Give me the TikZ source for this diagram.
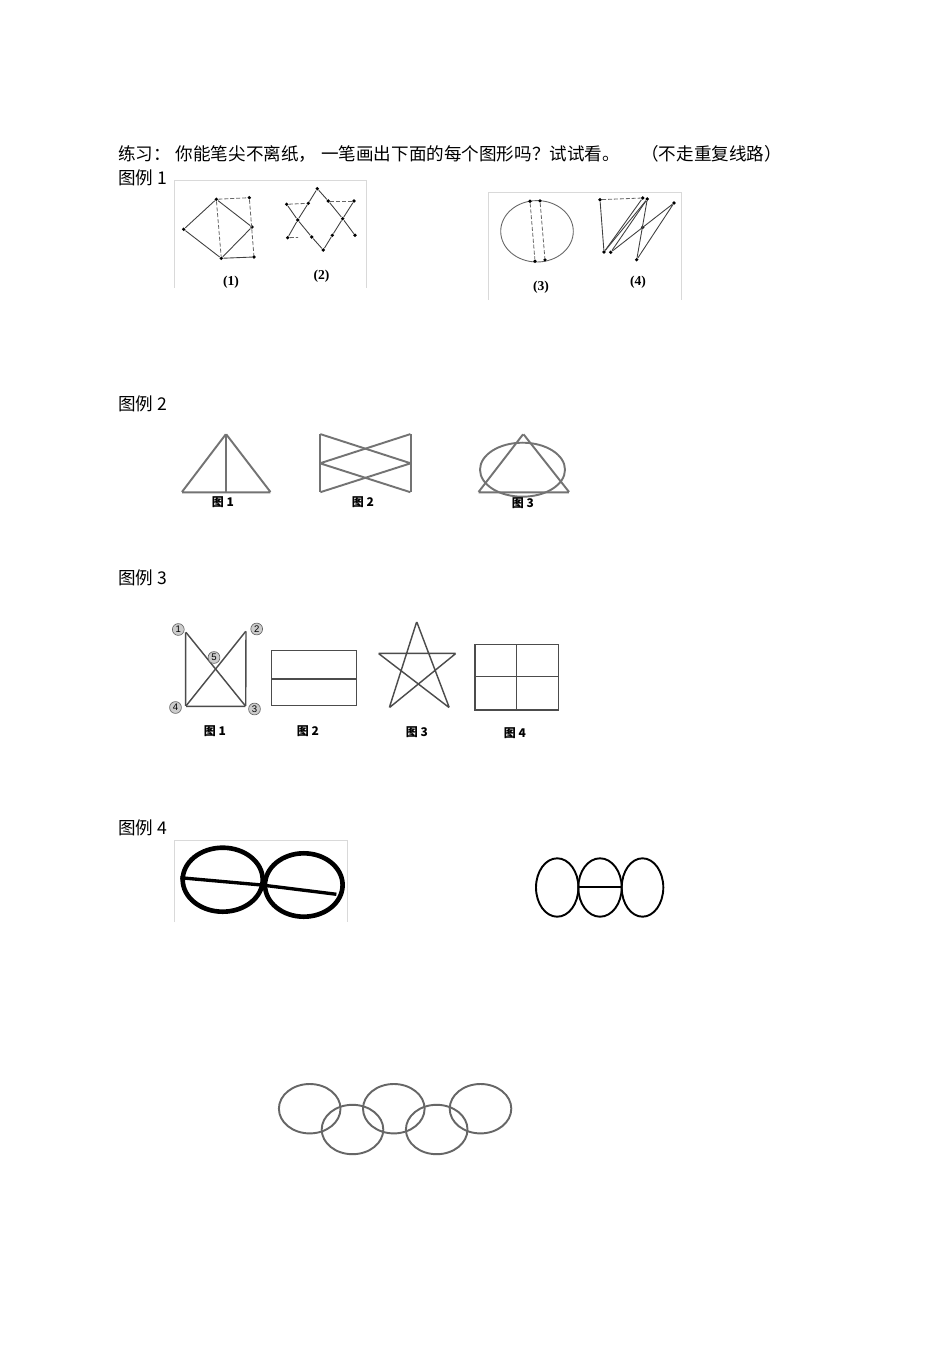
\documentclass[tikz,border=0pt]{standalone}
\usepackage{fontspec}
\setmainfont{Liberation Sans}
\newfontfamily\cjk{Noto Sans CJK SC}
\newfontfamily\scanserif{Liberation Serif}
\usetikzlibrary{arrows, arrows.meta}
\usetikzlibrary{calc}

\tikzset{
  vdot/.style={circle, fill, inner sep=0pt, minimum size=0.8mm},
  vtx/.style={inner sep=0pt, minimum size=0pt},
  scanline/.style={draw=black!75, line width=0.55pt},
  scandash/.style={draw=black!60, line width=0.5pt, dash pattern=on 2.5pt off 1.2pt},
  frameline/.style={draw=black!15, line width=0.6pt},
  grayline/.style={draw=black!55, line width=1.2pt},
  darkline/.style={draw=black!70, line width=0.9pt},
  numtag/.style={circle, draw=black!60, fill=black!20, inner sep=0.3pt, minimum size=2.6mm, font=\fontsize{6}{6}\selectfont},
  headtext/.style={anchor=base west, inner sep=0pt, font=\cjk\fontsize{11}{13}\selectfont},
  figlabel/.style={inner sep=0pt, font=\cjk\bfseries\fontsize{7.5}{8}\selectfont},
  numlabel/.style={inner sep=0pt, font=\scanserif\bfseries\fontsize{8.5}{9}\selectfont}
}

\begin{document}
\begin{tikzpicture}[x=0.626pt, y=-0.626pt]
  \useasboundingbox[fill=white] (0,0) rectangle (950,1345);

  \node[headtext] (title) at (118,161) {练习：\hspace{3pt}你能笔尖不离纸，\hspace{3pt}一笔画出下面的每个图形吗？试试看。};
  \node[headtext] (rule) at (641,161) {（不走重复线路）};
  \node[headtext] (head1) at (118,185) {图例 1};
  \node[headtext] (head2) at (118,410) {图例 2};
  \node[headtext] (head3) at (118,584) {图例 3};
  \node[headtext] (head4) at (118,834) {图例 4};

  % 图例 1
  \draw[frameline] (174,288) -- (174,180) -- (366,180) -- (366,288);
  \draw[frameline] (488,300) -- (488,192) -- (681,192) -- (681,300);

  \node[vdot] (a1) at (183.7,229.3) {};
  \node[vdot] (t1) at (216.3,199.3) {};
  \node[vdot] (q1) at (249.3,197.7) {};
  \node[vdot] (r1) at (252,227) {};
  \node[vdot] (b1) at (221.3,258.3) {};
  \node[vdot] (s1) at (254,257) {};
  \draw[scanline] (a1) -- (t1) -- (r1) -- (b1) -- (a1);
  \draw[scanline] (b1) -- (s1);
  \draw[scandash] (t1) -- (b1);
  \draw[scandash] (t1) -- (q1) -- (s1);
  \node[numlabel] (lab1) at (231,282) {(1)};

  \node[vdot] (st) at (317.3,188.7) {};
  \node[vdot] (sul) at (286.7,204.3) {};
  \node[vdot] (sd1) at (308.3,203.3) {};
  \node[vdot] (sd2) at (328.3,201) {};
  \node[vdot] (sur) at (354,201) {};
  \node[vdot] (slc) at (297.7,220) {};
  \node[vdot] (src) at (342.7,218.7) {};
  \node[vdot] (sll) at (287.7,237.7) {};
  \node[vdot] (sd3) at (311.7,237) {};
  \node[vdot] (sd4) at (332.3,235.3) {};
  \node[vdot] (slr) at (355,235.3) {};
  \node[vdot] (sb) at (323.3,250) {};
  \coordinate (sllh) at (298,237.4);
  \draw[scanline] (st) -- (sd1) -- (slc) -- (sll);
  \draw[scanline] (sul) -- (slc) -- (sd3) -- (sb);
  \draw[scanline] (st) -- (sd2) -- (src) -- (slr);
  \draw[scanline] (sur) -- (src) -- (sd4) -- (sb);
  \draw[scandash] (sul) -- (sd1);
  \draw[scandash] (sd2) -- (sur);
  \draw[scandash] (sll) -- (sllh);
  \node[numlabel] (lab2) at (321.5,276) {(2)};

  \draw[scanline, draw=black!60] (537,231.3) ellipse [x radius=36.3, y radius=30.7];
  \node[vdot] (e1t) at (530,201.3) {};
  \node[vdot] (e1b) at (535,261.3) {};
  \node[vdot] (e2t) at (540,200.9) {};
  \node[vdot] (e2b) at (545,259.9) {};
  \draw[scandash] (e1t) -- (e1b);
  \draw[scandash] (e2t) -- (e2b);
  \node[numlabel] (lab3) at (541,287) {(3)};

  \node[vdot] (za) at (600,199.7) {};
  \node[vdot] (zb) at (642.7,198) {};
  \node[vdot] (zc) at (647.3,199) {};
  \node[vdot] (zd) at (674,203) {};
  \node[vdot] (ze) at (642.7,227.3) {};
  \node[vdot] (zf) at (604,252) {};
  \node[vdot] (zg) at (610.7,252.3) {};
  \node[vdot] (zh) at (636.7,259.7) {};
  \draw[scandash] (za) -- (zb);
  \draw[scanline] (za) -- (zf) -- (zb);
  \draw[scanline] (zf) -- (zc);
  \draw[scanline] (zg) -- (zc) -- (zh);
  \draw[scanline] (zg) -- (zd) -- (zh);
  \node[numlabel] (lab4) at (638,282) {(4)};

  % 图例 2
  \node[vtx] (p1) at (226,434) {};
  \node[vtx] (p1l) at (181.7,492.3) {};
  \node[vtx] (p1r) at (270.7,492.3) {};
  \node[vtx] (p1f) at (226,492.3) {};
  \draw[grayline] (p1l) -- (p1) -- (p1r) -- (p1l);
  \draw[grayline] (p1) -- (p1f);
  \node[figlabel] (fig21) at (223,502) {图 1};

  \node[vtx] (btl) at (320,434) {};
  \node[vtx] (bml) at (320,463.3) {};
  \node[vtx] (bbl) at (320,492.3) {};
  \node[vtx] (btr) at (410.7,434) {};
  \node[vtx] (bmr) at (410.7,463.3) {};
  \node[vtx] (bbr) at (410.7,492.3) {};
  \draw[grayline] (btl) -- (bbl);
  \draw[grayline] (btr) -- (bbr);
  \draw[grayline] (btl) -- (bmr) -- (bbl);
  \draw[grayline] (btr) -- (bml) -- (bbr);
  \node[figlabel] (fig22) at (363,502) {图 2};

  \node[vtx] (p3) at (523.3,434) {};
  \node[vtx] (p3l) at (478.3,492.3) {};
  \node[vtx] (p3r) at (569.3,492.3) {};
  \draw[grayline] (p3l) -- (p3) -- (p3r) -- (p3l);
  \draw[grayline] (522.5,469.7) ellipse [x radius=42.5, y radius=27];
  \node[figlabel] (fig23) at (523,503) {图 3};

  % 图例 3
  \node[vtx] (c1) at (185.7,632) {};
  \node[vtx] (c2) at (246,631) {};
  \node[vtx] (c3) at (245.7,706.3) {};
  \node[vtx] (c4) at (185.7,706.3) {};
  \draw[darkline] (c1) -- (c4) -- (c3) -- (c2);
  \draw[darkline] (c1) -- (c3);
  \draw[darkline] (c2) -- (c4);
  \node[numtag] (n1) at (178.3,629.5) {1};
  \node[numtag] (n2) at (256.7,629) {2};
  \node[numtag] (n5) at (214,657.5) {5};
  \node[numtag] (n4) at (175.5,707.5) {4};
  \node[numtag] (n3) at (254.5,709) {3};
  \node[figlabel] (fig31) at (215,731) {图 1};

  \draw[darkline] (271.7,650.7) rectangle (356.7,705.7);
  \node[vtx] (hl) at (271.7,679) {};
  \node[vtx] (hr) at (356.7,679) {};
  \draw[darkline] (hl) -- (hr);
  \node[figlabel] (fig32) at (308,731) {图 2};

  \node[vtx] (kt) at (416.7,621.7) {};
  \node[vtx] (kl) at (378.3,653.3) {};
  \node[vtx] (kr) at (456,653.3) {};
  \node[vtx] (kbl) at (389.3,707.7) {};
  \node[vtx] (kbr) at (449.3,707.7) {};
  \draw[darkline] (kt) -- (kbl) -- (kr) -- (kl) -- (kbr) -- (kt);
  \node[figlabel] (fig33) at (417,732) {图 3};

  \draw[darkline] (475,644.3) rectangle (558.3,710);
  \node[vtx] (gt) at (516.7,644.3) {};
  \node[vtx] (gb) at (516.7,710) {};
  \node[vtx] (gl) at (475,676.7) {};
  \node[vtx] (gr) at (558.3,676.7) {};
  \draw[darkline] (gt) -- (gb);
  \draw[darkline] (gl) -- (gr);
  \node[figlabel] (fig34) at (515,733) {图 4};

  % 图例 4
  \draw[frameline] (174,922) -- (174,840) -- (347,840) -- (347,922);
  \draw[line width=2.9pt] (222.7,879.7) ellipse [x radius=40, y radius=32];
  \draw[line width=2.9pt] (303.8,885) ellipse [x radius=38.8, y radius=31.7];
  \node[vtx] (w1) at (180,877.7) {};
  \node[vtx] (w2) at (261.7,885) {};
  \node[vtx] (w3) at (336.7,894.3) {};
  \draw[line width=2.1pt] (w1) -- (w2) -- (w3);

  \draw[line width=1.2pt] (557.2,887.5) ellipse [x radius=21.2, y radius=29.2];
  \draw[line width=1.2pt] (600,887.5) ellipse [x radius=21.7, y radius=29.2];
  \draw[line width=1.2pt] (642.5,887.5) ellipse [x radius=20.8, y radius=29.2];
  \node[vtx] (m1) at (578.3,887.3) {};
  \node[vtx] (m2) at (621.7,887.3) {};
  \draw[line width=1.2pt] (m1) -- (m2);

  \draw[grayline, draw=black!60] (309.7,1108.7) ellipse [x radius=30.8, y radius=24.7];
  \draw[grayline, draw=black!60] (352.5,1129.5) ellipse [x radius=30.8, y radius=24.7];
  \draw[grayline, draw=black!60] (393.8,1108.7) ellipse [x radius=30.8, y radius=24.7];
  \draw[grayline, draw=black!60] (436.7,1129.5) ellipse [x radius=30.8, y radius=24.7];
  \draw[grayline, draw=black!60] (480.5,1108.7) ellipse [x radius=30.8, y radius=24.7];
\end{tikzpicture}
\end{document}
